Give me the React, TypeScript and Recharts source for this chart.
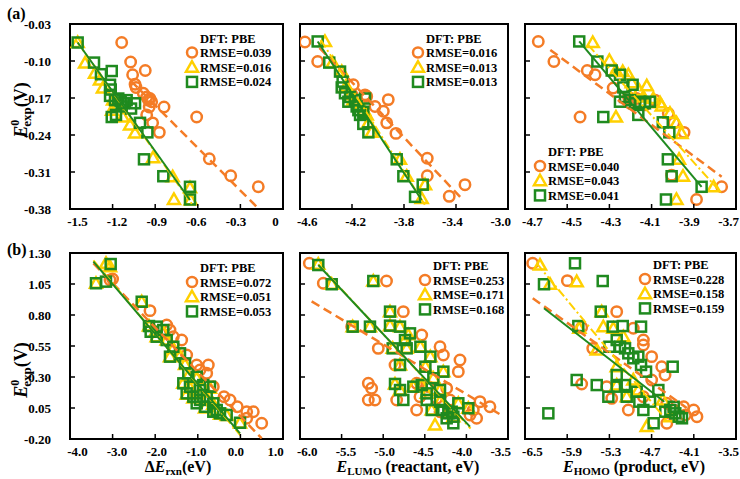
import React from 'react';
import { ScatterChart, Scatter, XAxis, YAxis, ReferenceArea } from 'recharts';

type Pt = [number, number];

const ORANGE = '#F47C26';
const YELLOW = '#FFD000';
const GREEN = '#1F8A1F';
const FONT = '"Liberation Serif", "Times New Roman", serif';

// axes, row (a)
const aYTicks = [-0.38, -0.31, -0.24, -0.17, -0.1, -0.03];
const aYLabels = ['-0.38', '-0.31', '-0.24', '-0.17', '-0.10', '-0.03'];
const a1XTicks = [-1.5, -1.2, -0.9, -0.6, -0.3, 0];
const a1XLabels = ['-1.5', '-1.2', '-0.9', '-0.6', '-0.3', '0'];
const a2XTicks = [-4.6, -4.2, -3.8, -3.4, -3.0];
const a2XLabels = ['-4.6', '-4.2', '-3.8', '-3.4', '-3.0'];
const a3XTicks = [-4.7, -4.5, -4.3, -4.1, -3.9, -3.7];
const a3XLabels = ['-4.7', '-4.5', '-4.3', '-4.1', '-3.9', '-3.7'];

// axes, row (b)
const bYTicks = [-0.2, 0.05, 0.3, 0.55, 0.8, 1.05, 1.3];
const bYLabels = ['-0.20', '0.05', '0.30', '0.55', '0.80', '1.05', '1.30'];
const b1XTicks = [-4, -3, -2, -1, 0, 1];
const b1XLabels = ['-4.0', '-3.0', '-2.0', '-1.0', '0.0', '1.0'];
const b2XTicks = [-6.0, -5.5, -5.0, -4.5, -4.0, -3.5];
const b2XLabels = ['-6.0', '-5.5', '-5.0', '-4.5', '-4.0', '-3.5'];
const b3XTicks = [-6.5, -5.9, -5.3, -4.7, -4.1, -3.5];
const b3XLabels = ['-6.5', '-5.9', '-5.3', '-4.7', '-4.1', '-3.5'];

// panel a1
const a1Circles: Pt[] = [[-1.136, -0.065], [-1.073, -0.102], [-1.059, -0.126], [-1.042, -0.144], [-1.035, -0.15], [-0.97, -0.118], [-0.984, -0.161], [-0.96, -0.168], [-0.948, -0.174], [-0.937, -0.171], [-0.925, -0.177], [-0.942, -0.187], [-0.96, -0.202], [-0.838, -0.187], [-0.918, -0.217], [-0.871, -0.235], [-0.608, -0.206], [-0.519, -0.285], [-0.368, -0.317], [-0.174, -0.338]];
const a1Triangles: Pt[] = [[-1.446, -0.065], [-1.394, -0.104], [-1.324, -0.123], [-1.289, -0.136], [-1.268, -0.151], [-1.197, -0.174], [-1.169, -0.185], [-1.127, -0.206], [-1.077, -0.221], [-1.042, -0.236], [-0.915, -0.283], [-0.777, -0.319], [-0.768, -0.362], [-0.655, -0.34], [-0.65, -0.363], [-1.204, -0.193]];
const a1Squares: Pt[] = [[-1.446, -0.065], [-1.331, -0.103], [-1.282, -0.125], [-1.206, -0.119], [-1.218, -0.145], [-1.213, -0.154], [-1.218, -0.166], [-1.183, -0.174], [-1.16, -0.171], [-1.143, -0.175], [-1.124, -0.18], [-1.136, -0.186], [-1.101, -0.174], [-1.07, -0.19], [-1.042, -0.18], [-1.206, -0.206], [-1.176, -0.202], [-1.007, -0.217], [-0.955, -0.235], [-0.979, -0.286], [-0.843, -0.318], [-0.655, -0.338], [-0.655, -0.362]];
const a1FitCircle: Pt[] = [[-1.07, -0.138], [-0.17, -0.38]];
const a1FitTriangle: Pt[] = [[-1.46, -0.06], [-0.63, -0.375]];
const a1FitSquare: Pt[] = [[-1.446, -0.065], [-0.655, -0.363]];

// panel a2
const a2Circles: Pt[] = [[-4.562, -0.064], [-4.464, -0.101], [-4.19, -0.145], [-4.1, -0.164], [-4.087, -0.167], [-4.023, -0.186], [-3.959, -0.195], [-3.921, -0.173], [-3.933, -0.217], [-3.862, -0.237], [-3.621, -0.284], [-3.621, -0.317], [-3.452, -0.356], [-3.331, -0.334], [-4.2, -0.164]];
const a2Triangles: Pt[] = [[-4.408, -0.063], [-4.349, -0.103], [-4.279, -0.12], [-4.246, -0.148], [-4.215, -0.164], [-4.19, -0.174], [-4.138, -0.186], [-4.108, -0.193], [-4.087, -0.202], [-4.074, -0.217], [-4.049, -0.235], [-3.831, -0.286], [-3.779, -0.318], [-3.638, -0.334], [-3.664, -0.36]];
const a2Squares: Pt[] = [[-4.464, -0.063], [-4.375, -0.103], [-4.292, -0.12], [-4.272, -0.139], [-4.279, -0.15], [-4.254, -0.161], [-4.215, -0.168], [-4.228, -0.177], [-4.177, -0.174], [-4.164, -0.186], [-4.151, -0.193], [-4.138, -0.202], [-4.113, -0.196], [-4.1, -0.171], [-4.113, -0.219], [-4.074, -0.235], [-3.856, -0.286], [-3.805, -0.318], [-3.656, -0.334], [-3.715, -0.357]];
const a2FitCircle: Pt[] = [[-4.45, -0.075], [-3.35, -0.362]];
const a2FitTriangle: Pt[] = [[-4.44, -0.06], [-3.64, -0.372]];
const a2FitSquare: Pt[] = [[-4.464, -0.063], [-3.664, -0.363]];

// panel a3
const a3Circles: Pt[] = [[-4.637, -0.063], [-4.563, -0.101], [-4.405, -0.118], [-4.368, -0.126], [-4.282, -0.151], [-4.21, -0.168], [-4.194, -0.174], [-4.171, -0.171], [-4.155, -0.18], [-4.202, -0.18], [-4.439, -0.206], [-4.021, -0.199], [-3.994, -0.217], [-3.946, -0.235], [-4.005, -0.316], [-3.887, -0.362], [-3.768, -0.338], [-4.131, -0.183], [-4.083, -0.174]];
const a3Triangles: Pt[] = [[-4.379, -0.065], [-4.3, -0.099], [-4.269, -0.118], [-4.237, -0.12], [-4.21, -0.126], [-4.194, -0.141], [-4.123, -0.147], [-4.158, -0.156], [-4.139, -0.168], [-4.092, -0.171], [-4.06, -0.179], [-4.052, -0.185], [-4.013, -0.199], [-3.982, -0.217], [-3.958, -0.237], [-3.97, -0.286], [-3.951, -0.318], [-3.982, -0.362], [-3.806, -0.338], [-4.269, -0.206]];
const a3Squares: Pt[] = [[-4.443, -0.063], [-4.357, -0.101], [-4.289, -0.118], [-4.25, -0.126], [-4.234, -0.15], [-4.19, -0.145], [-4.25, -0.177], [-4.226, -0.168], [-4.202, -0.174], [-4.179, -0.18], [-4.155, -0.177], [-4.131, -0.18], [-4.108, -0.177], [-4.163, -0.202], [-4.329, -0.206], [-4.047, -0.216], [-4.016, -0.235], [-4.023, -0.286], [-4.005, -0.318], [-4.032, -0.362], [-3.863, -0.338]];
const a3FitCircle: Pt[] = [[-4.58, -0.079], [-3.768, -0.319]];
const a3FitTriangle: Pt[] = [[-4.4, -0.07], [-3.78, -0.345]];
const a3FitSquare: Pt[] = [[-4.443, -0.063], [-3.863, -0.338]];

// panel b1
const b1Circles: Pt[] = [[-3.061, 1.082], [-3.0, 1.09], [-2.122, 0.835], [-1.73, 0.719], [-1.653, 0.679], [-1.575, 0.625], [-1.378, 0.598], [-1.261, 0.477], [-1.026, 0.397], [-0.948, 0.356], [-0.753, 0.397], [-0.791, 0.33], [-0.636, 0.222], [-0.385, 0.141], [-0.244, 0.115], [-0.073, 0.06], [0.148, 0.02], [0.148, -0.033], [0.5, -0.073], [0.303, 0.02]];
const b1Triangles: Pt[] = [[-3.39, 1.056], [-3.155, 1.217], [-3.06, 1.19], [-2.317, 0.907], [-2.146, 0.711], [-2.0, 0.66], [-1.965, 0.625], [-1.81, 0.66], [-1.73, 0.598], [-1.575, 0.53], [-1.653, 0.464], [-1.418, 0.47], [-1.3, 0.4], [-1.34, 0.25], [-1.223, 0.31], [-1.183, 0.21], [-1.026, 0.29], [-0.948, 0.18], [-0.871, 0.22], [-0.791, 0.13], [-0.636, 0.08], [-0.556, 0.03], [-0.479, 0.0], [-0.322, -0.01], [-0.009, -0.07], [-0.714, 0.21], [-1.105, 0.13], [-1.261, 0.16], [-0.831, 0.05]];
const b1Squares: Pt[] = [[-3.39, 1.056], [-3.155, 1.069], [-3.045, 1.211], [-2.317, 0.907], [-2.146, 0.711], [-2.106, 0.665], [-1.965, 0.706], [-1.965, 0.625], [-1.81, 0.679], [-1.73, 0.598], [-1.575, 0.544], [-1.653, 0.464], [-1.418, 0.491], [-1.3, 0.41], [-1.34, 0.249], [-1.223, 0.33], [-1.183, 0.222], [-1.026, 0.302], [-0.948, 0.195], [-0.871, 0.235], [-0.791, 0.141], [-0.636, 0.088], [-0.556, 0.034], [-0.479, 0.007], [-0.322, -0.006], [-0.009, -0.069], [-0.714, 0.222], [-0.948, 0.115], [-1.105, 0.141], [-1.261, 0.168], [-0.831, 0.06], [-1.026, 0.088], [-0.636, 0.02]];
const b1FitCircle: Pt[] = [[-3.45, 1.217], [0.5, -0.195]];
const b1FitTriangle: Pt[] = [[-3.45, 1.24], [0.0, -0.17]];
const b1FitSquare: Pt[] = [[-3.45, 1.23], [-0.009, -0.154]];

// panel b2
const b2Circles: Pt[] = [[-5.888, 1.217], [-5.72, 1.056], [-4.96, 1.074], [-5.379, 0.706], [-5.059, 0.531], [-4.758, 0.827], [-4.537, 0.639], [-4.858, 0.397], [-5.179, 0.249], [-5.139, 0.209], [-5.179, 0.115], [-5.099, 0.115], [-4.317, 0.544], [-4.277, 0.477], [-4.077, 0.437], [-4.097, 0.343], [-4.598, 0.249], [-4.558, 0.141], [-4.598, 0.034], [-4.357, 0.128], [-4.237, 0.209], [-4.197, 0.115], [-3.917, 0.034], [-3.877, -0.033], [-3.837, 0.101], [-3.717, 0.06], [-3.957, -0.006], [-4.317, 0.02], [-4.838, 0.115], [-4.457, 0.222]];
const b2Triangles: Pt[] = [[-5.78, 1.21], [-5.619, 1.048], [-5.119, 1.074], [-5.367, 0.706], [-5.159, 0.706], [-4.918, 0.827], [-4.918, 0.714], [-4.798, 0.706], [-4.7, 0.64], [-4.738, 0.598], [-4.886, 0.531], [-4.718, 0.531], [-4.553, 0.544], [-4.433, 0.464], [-4.493, 0.383], [-4.277, 0.343], [-4.798, 0.397], [-4.858, 0.244], [-4.798, 0.195], [-4.638, 0.222], [-4.537, 0.235], [-4.477, 0.168], [-4.417, 0.034], [-4.317, 0.195], [-4.317, 0.101], [-4.217, 0.007], [-4.157, -0.02], [-4.097, 0.088], [-3.977, 0.048], [-4.377, -0.087], [-4.397, 0.29]];
const b2Squares: Pt[] = [[-5.78, 1.203], [-5.619, 1.048], [-5.119, 1.074], [-5.367, 0.706], [-5.159, 0.706], [-4.918, 0.827], [-4.918, 0.714], [-4.798, 0.706], [-4.678, 0.652], [-4.738, 0.598], [-4.886, 0.531], [-4.718, 0.531], [-4.553, 0.544], [-4.433, 0.464], [-4.493, 0.383], [-4.277, 0.343], [-4.798, 0.397], [-4.858, 0.244], [-4.798, 0.195], [-4.758, 0.115], [-4.638, 0.222], [-4.537, 0.235], [-4.477, 0.168], [-4.477, 0.115], [-4.417, 0.034], [-4.317, 0.195], [-4.317, 0.101], [-4.277, 0.034], [-4.217, 0.007], [-4.177, 0.02], [-4.157, -0.02], [-4.157, -0.073], [-4.097, 0.088], [-3.977, 0.048], [-4.237, -0.033], [-4.397, 0.29]];
const b2FitCircle: Pt[] = [[-5.86, 0.91], [-3.6, 0.0]];
const b2FitTriangle: Pt[] = [[-5.78, 1.21], [-3.95, -0.115]];
const b2FitSquare: Pt[] = [[-5.78, 1.203], [-3.957, -0.1]];

// panel b3
const b3Circles: Pt[] = [[-6.391, 1.217], [-5.898, 1.077], [-5.196, 0.827], [-5.694, 0.701], [-5.537, 0.531], [-4.96, 0.693], [-4.817, 0.598], [-4.817, 0.558], [-4.699, 0.464], [-4.556, 0.383], [-4.509, 0.316], [-4.699, 0.276], [-5.694, 0.244], [-5.338, 0.222], [-5.267, 0.128], [-5.031, 0.034], [-4.817, 0.141], [-4.484, 0.088], [-4.484, -0.073], [-4.386, 0.034], [-4.244, 0.06], [-4.102, 0.034], [-4.055, -0.02], [-4.22, -0.006]];
const b3Triangles: Pt[] = [[-6.287, 1.203], [-6.144, 1.048], [-5.765, 1.069], [-5.728, 0.693], [-5.41, 0.827], [-5.386, 0.706], [-5.48, 0.518], [-5.196, 0.383], [-5.101, 0.625], [-4.96, 0.276], [-4.889, 0.195], [-4.77, -0.1], [-4.542, 0.115], [-4.434, -0.02], [-5.054, 0.141], [-5.196, 0.235], [-5.244, 0.693]];
const b3Squares: Pt[] = [[-5.789, 1.217], [-6.23, 1.048], [-5.395, 1.074], [-5.742, 0.711], [-5.423, 0.827], [-5.253, 0.706], [-5.11, 0.711], [-4.85, 0.706], [-5.196, 0.598], [-5.3, 0.544], [-5.149, 0.544], [-5.078, 0.531], [-5.031, 0.491], [-4.96, 0.451], [-4.889, 0.464], [-4.85, 0.397], [-4.779, 0.343], [-4.4, 0.383], [-5.765, 0.276], [-5.48, 0.235], [-5.315, 0.141], [-5.196, 0.316], [-5.196, 0.222], [-5.078, 0.235], [-5.054, 0.141], [-4.912, 0.181], [-4.874, 0.101], [-4.817, 0.034], [-4.722, 0.101], [-4.604, 0.195], [-4.671, -0.073], [-4.505, 0.02], [-4.434, 0.034], [-4.386, 0.06], [-4.315, -0.02], [-4.268, -0.033], [-4.363, 0.007], [-6.168, 0.007]];
const b3FitCircle: Pt[] = [[-6.39, 0.935], [-4.2, 0.05]];
const b3FitTriangle: Pt[] = [[-6.334, 1.217], [-4.53, -0.02]];
const b3FitSquare: Pt[] = [[-6.23, 0.854], [-4.52, 0.1]];

// legend RMSE values (circle, triangle, square)
const a1Rmse = ['0.039', '0.016', '0.024'];
const a2Rmse = ['0.016', '0.013', '0.013'];
const a3Rmse = ['0.040', '0.043', '0.041'];
const b1Rmse = ['0.072', '0.051', '0.053'];
const b2Rmse = ['0.253', '0.171', '0.168'];
const b3Rmse = ['0.228', '0.158', '0.159'];

const ML = 60;
const MT = 10;
const MR = 10;
const MB = 30;

const toXY = (pts: Pt[]) => pts.map(([x, y]) => ({ x, y }));

const CircleShape = (p: any) => (
  <circle cx={p.cx} cy={p.cy} r={5.2} fill="none" stroke={ORANGE} strokeWidth={2.5} />
);
const TriangleShape = (p: any) => (
  <polygon
    points={`${p.cx},${p.cy - 6} ${p.cx - 6},${p.cy + 4.5} ${p.cx + 6},${p.cy + 4.5}`}
    fill="none"
    stroke={YELLOW}
    strokeWidth={2.5}
  />
);
const SquareShape = (p: any) => (
  <rect x={p.cx - 5} y={p.cy - 5} width={10} height={10} fill="none" stroke={GREEN} strokeWidth={2.5} />
);
const NoShape = () => <g />;

// labels sit a little toward the middle of each panel, as in the source figure
const xTick = (ticks: number[], labels: string[], mid: number) => (p: any) => (
  <g>
    <line x1={p.x} x2={p.x} y1={p.y} y2={p.y - 5} stroke="#000" strokeWidth={1.5} />
    <text x={p.x + (mid - p.x) * 0.07} y={p.y + 17} textAnchor="middle" fontSize={13} fontWeight="bold" fontFamily={FONT} fill="#000">
      {labels[ticks.indexOf(p.payload.value)]}
    </text>
  </g>
);

const yTick = (ticks: number[], labels: string[] | null) => (p: any) => (
  <g>
    <line x1={p.x} x2={p.x + 5} y1={p.y} y2={p.y} stroke="#000" strokeWidth={1.5} />
    {labels && (
      <text x={p.x - 19} y={p.y + 4.5} textAnchor="end" fontSize={13} fontWeight="bold" fontFamily={FONT} fill="#000">
        {labels[ticks.indexOf(p.payload.value)]}
      </text>
    )}
  </g>
);

interface PanelProps {
  left: number;
  top: number;
  w: number;
  h: number;
  xDomain: [number, number];
  xTicks: number[];
  xLabels: string[];
  yDomain: [number, number];
  yTicks: number[];
  yLabels: string[] | null;
  circles: Pt[];
  triangles: Pt[];
  squares: Pt[];
  fitCircle: Pt[];
  fitTriangle: Pt[];
  fitSquare: Pt[];
}

const Panel = (props: PanelProps) => {
  const { left, top, w, h, xDomain, yDomain } = props;
  return (
    <div style={{ position: 'absolute', left: left - ML, top: top - MT }}>
      <ScatterChart width={w + ML + MR} height={h + MT + MB} margin={{ top: MT, right: MR, bottom: 0, left: 0 }}>
        <XAxis
          type="number"
          dataKey="x"
          domain={xDomain}
          ticks={props.xTicks}
          interval={0}
          allowDataOverflow
          height={MB}
          axisLine={false}
          tickLine={false}
          tickSize={0}
          tickMargin={0}
          tick={xTick(props.xTicks, props.xLabels, ML + w / 2)}
        />
        <YAxis
          type="number"
          dataKey="y"
          domain={yDomain}
          ticks={props.yTicks}
          interval={0}
          allowDataOverflow
          width={ML}
          axisLine={false}
          tickLine={false}
          tickSize={0}
          tickMargin={0}
          tick={yTick(props.yTicks, props.yLabels)}
        />
        <ReferenceArea
          x1={xDomain[0]}
          x2={xDomain[1]}
          y1={yDomain[0]}
          y2={yDomain[1]}
          fill="none"
          stroke="#000"
          strokeWidth={2}
        />
        <Scatter data={toXY(props.circles)} shape={CircleShape} isAnimationActive={false} />
        <Scatter data={toXY(props.triangles)} shape={TriangleShape} isAnimationActive={false} />
        <Scatter data={toXY(props.squares)} shape={SquareShape} isAnimationActive={false} />
        <Scatter
          data={toXY(props.fitCircle)}
          shape={NoShape}
          line={{ stroke: ORANGE, strokeWidth: 2.5, strokeDasharray: '9 5' }}
          isAnimationActive={false}
        />
        <Scatter
          data={toXY(props.fitTriangle)}
          shape={NoShape}
          line={{ stroke: YELLOW, strokeWidth: 2, strokeDasharray: '9 3 2 3' }}
          isAnimationActive={false}
        />
        <Scatter
          data={toXY(props.fitSquare)}
          shape={NoShape}
          line={{ stroke: GREEN, strokeWidth: 2 }}
          isAnimationActive={false}
        />
      </ScatterChart>
    </div>
  );
};

const txt = { fontFamily: FONT, fontWeight: 'bold' as const, fill: '#000' };

const LegendBlock = ({ mx, my, rmse }: { mx: number; my: number; rmse: string[] }) => {
  const step = 14.7;
  return (
    <g>
      <text x={mx + 8} y={my - 10} fontSize={12.5} {...txt}>DFT: PBE</text>
      <circle cx={mx} cy={my} r={5} fill="none" stroke={ORANGE} strokeWidth={2.5} />
      <polygon
        points={`${mx},${my + step - 6} ${mx - 6},${my + step + 4.5} ${mx + 6},${my + step + 4.5}`}
        fill="none"
        stroke={YELLOW}
        strokeWidth={2.5}
      />
      <rect x={mx - 5} y={my + 2 * step - 5} width={10} height={10} fill="none" stroke={GREEN} strokeWidth={2.5} />
      {rmse.map((r, i) => (
        <text key={i} x={mx + 8} y={my + i * step + 4.5} fontSize={12.5} {...txt}>
          {`RMSE=${r}`}
        </text>
      ))}
    </g>
  );
};

const YTitle = ({ x, y }: { x: number; y: number }) => (
  <text transform={`translate(${x},${y}) rotate(-90)`} textAnchor="middle" fontSize={18} {...txt}>
    <tspan fontStyle="italic">E</tspan>
    <tspan fontSize={12} dy={-8}>0</tspan>
    <tspan fontSize={13} dx={-7} dy={12}>exp</tspan>
    <tspan dy={-4}>(V)</tspan>
  </text>
);

const App = () => {
  const rowA = { top: 24, h: 185, yDomain: [-0.38, -0.03] as [number, number], yTicks: aYTicks };
  const rowB = { top: 253, h: 186, yDomain: [-0.2, 1.3] as [number, number], yTicks: bYTicks };
  return (
    <div style={{ position: 'absolute', left: 0, top: 0, width: 740, height: 479, background: '#fff' }}>
      <Panel {...rowA} left={70} w={213} xDomain={[-1.5, 0]} xTicks={a1XTicks} xLabels={a1XLabels} yLabels={aYLabels}
        circles={a1Circles} triangles={a1Triangles} squares={a1Squares}
        fitCircle={a1FitCircle} fitTriangle={a1FitTriangle} fitSquare={a1FitSquare} />
      <Panel {...rowA} left={300} w={208} xDomain={[-4.6, -3.0]} xTicks={a2XTicks} xLabels={a2XLabels} yLabels={null}
        circles={a2Circles} triangles={a2Triangles} squares={a2Squares}
        fitCircle={a2FitCircle} fitTriangle={a2FitTriangle} fitSquare={a2FitSquare} />
      <Panel {...rowA} left={525} w={211} xDomain={[-4.7, -3.7]} xTicks={a3XTicks} xLabels={a3XLabels} yLabels={null}
        circles={a3Circles} triangles={a3Triangles} squares={a3Squares}
        fitCircle={a3FitCircle} fitTriangle={a3FitTriangle} fitSquare={a3FitSquare} />
      <Panel {...rowB} left={70} w={213} xDomain={[-4, 1]} xTicks={b1XTicks} xLabels={b1XLabels} yLabels={bYLabels}
        circles={b1Circles} triangles={b1Triangles} squares={b1Squares}
        fitCircle={b1FitCircle} fitTriangle={b1FitTriangle} fitSquare={b1FitSquare} />
      <Panel {...rowB} left={300} w={208} xDomain={[-6.0, -3.5]} xTicks={b2XTicks} xLabels={b2XLabels} yLabels={null}
        circles={b2Circles} triangles={b2Triangles} squares={b2Squares}
        fitCircle={b2FitCircle} fitTriangle={b2FitTriangle} fitSquare={b2FitSquare} />
      <Panel {...rowB} left={525} w={211} xDomain={[-6.5, -3.5]} xTicks={b3XTicks} xLabels={b3XLabels} yLabels={null}
        circles={b3Circles} triangles={b3Triangles} squares={b3Squares}
        fitCircle={b3FitCircle} fitTriangle={b3FitTriangle} fitSquare={b3FitSquare} />

      <svg width={740} height={479} style={{ position: 'absolute', left: 0, top: 0, pointerEvents: 'none' }}>
        <text x={7} y={19} fontSize={16} {...txt}>(a)</text>
        <text x={7} y={255} fontSize={16} {...txt}>(b)</text>
        <YTitle x={27} y={110} />
        <YTitle x={27} y={370} />

        <LegendBlock mx={192} my={52.5} rmse={a1Rmse} />
        <LegendBlock mx={418} my={52.5} rmse={a2Rmse} />
        <LegendBlock mx={540} my={166} rmse={a3Rmse} />
        <LegendBlock mx={192} my={282} rmse={b1Rmse} />
        <LegendBlock mx={425} my={280} rmse={b2Rmse} />
        <LegendBlock mx={645} my={279} rmse={b3Rmse} />

        <text x={178} y={472} textAnchor="middle" fontSize={16} {...txt}>
          <tspan>Δ</tspan>
          <tspan fontStyle="italic">E</tspan>
          <tspan fontSize={11} dy={3}>rxn</tspan>
          <tspan dy={-3}>(eV)</tspan>
        </text>
        <text x={408} y={472} textAnchor="middle" fontSize={16} {...txt}>
          <tspan fontStyle="italic">E</tspan>
          <tspan fontSize={11} dy={3}>LUMO</tspan>
          <tspan dy={-3}> (reactant, eV)</tspan>
        </text>
        <text x={634} y={472} textAnchor="middle" fontSize={16} {...txt}>
          <tspan fontStyle="italic">E</tspan>
          <tspan fontSize={11} dy={3}>HOMO</tspan>
          <tspan dy={-3}> (product, eV)</tspan>
        </text>
      </svg>
    </div>
  );
};

export default App;
